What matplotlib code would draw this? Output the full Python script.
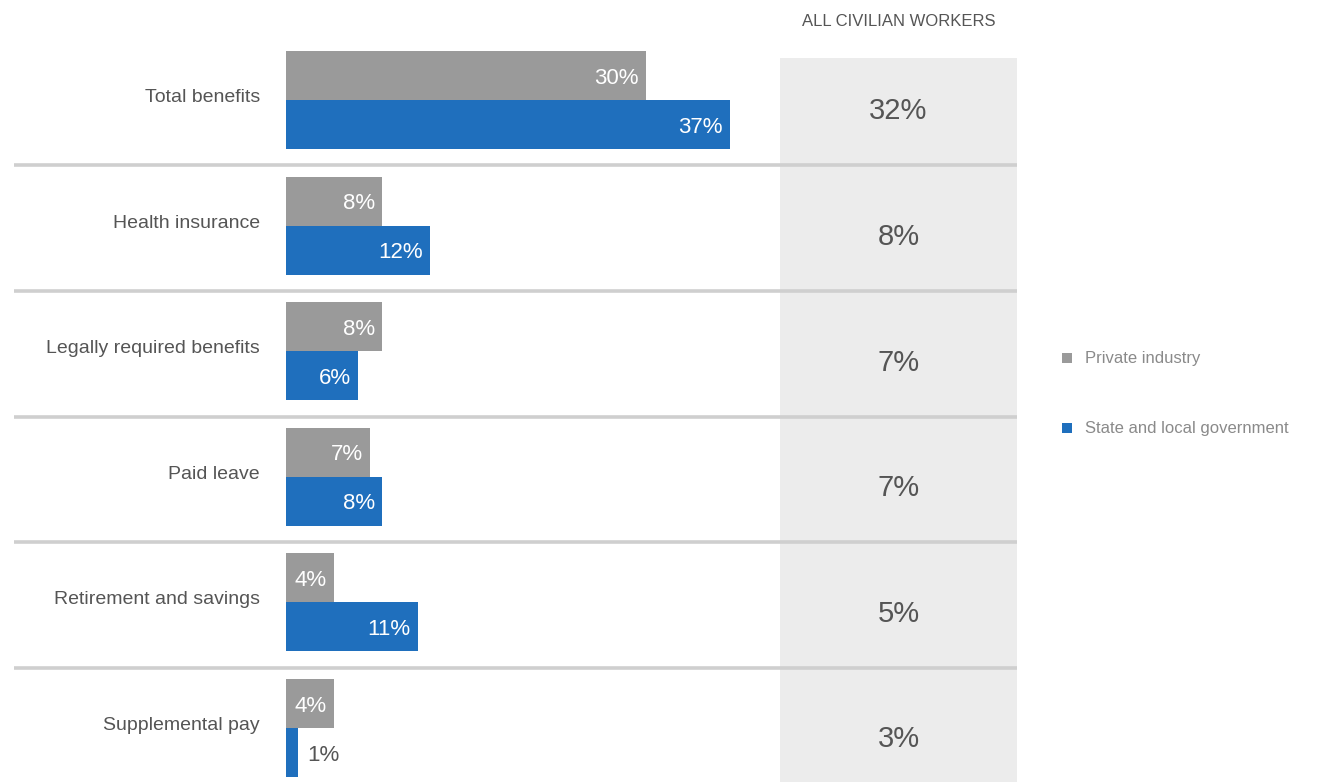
import matplotlib
matplotlib.use("Agg")
import matplotlib.pyplot as plt
from matplotlib import font_manager
from matplotlib.patches import Rectangle

categories = ["Total benefits", "Health insurance", "Legally required benefits",
              "Paid leave", "Retirement and savings", "Supplemental pay"]
private_industry = [30, 8, 8, 7, 4, 4]
state_local = [37, 12, 6, 8, 11, 1]
all_civilian = [32, 8, 7, 7, 5, 3]
series_names = ["Private industry", "State and local government"]
column_header = "ALL CIVILIAN WORKERS"

names = {f.name for f in font_manager.fontManager.ttflist}
FONT = "Liberation Sans Narrow" if "Liberation Sans Narrow" in names else "Liberation Sans"

GRAY = "#9a9a9a"
BLUE = "#1f6fbd"
PANEL = "#ececec"
SEP = "#cfcfcf"
TXT = "#555555"

W, H = 1337, 782
fig = plt.figure(figsize=(W / 100, H / 100), dpi=100)

# bar axes: x=0 at 286 px, 12 px per percent
x0_px, px_per = 286, 12.0
ax_right_px = 1017
ax = fig.add_axes([x0_px / W, 0, (ax_right_px - x0_px) / W, 1])
ax.set_xlim(0, (ax_right_px - x0_px) / px_per)
pitch = 125.6
c0 = 100
ax.set_ylim((H - c0) / pitch, (0 - c0) / pitch)
ax.axis("off")

n = len(categories)
ys = list(range(n))
bh = 0.39
ax.barh([y - bh / 2 for y in ys], private_industry, height=bh, color=GRAY, zorder=3)
ax.barh([y + bh / 2 for y in ys], state_local, height=bh, color=BLUE, zorder=3)

# gray panel for all civilian workers
panel_l = (780 - x0_px) / px_per
panel_r = (1017 - x0_px) / px_per
panel_top = (58 - c0) / pitch
ax.add_patch(Rectangle((panel_l, panel_top), panel_r - panel_l, 10,
                       facecolor=PANEL, edgecolor="none", zorder=1))
panel_c = (panel_l + panel_r) / 2
ax.text(panel_c, (22 - c0) / pitch, column_header, ha="center", va="center",
        fontsize=12, color=TXT, family=FONT)
for y, v in zip(ys, all_civilian):
    ax.text(panel_c, y + 0.09, f"{v}%", ha="center", va="center",
            fontsize=21, color=TXT, family=FONT, zorder=4)

# separators
sep_left = (14 - x0_px) / px_per
for y in ys[:-1]:
    ax.plot([sep_left, panel_r], [y + 0.52, y + 0.52], color=SEP, lw=2.6,
            clip_on=False, zorder=2, solid_capstyle="butt")

# value labels
for y, p, s in zip(ys, private_industry, state_local):
    for val, yy in ((p, y - bh / 2), (s, y + bh / 2)):
        if val >= 3:
            ax.text(val - 0.6, yy + 0.02, f"{val}%", ha="right", va="center",
                    fontsize=16, color="white", family=FONT, zorder=5)
        else:
            ax.text(val + 0.8, yy + 0.02, f"{val}%", ha="left", va="center",
                    fontsize=16, color=TXT, family=FONT, zorder=5)

# category labels
for y, c in zip(ys, categories):
    ax.text((260 - x0_px) / px_per, y - 0.02, c, ha="right", va="center",
            fontsize=14, color=TXT, family=FONT, clip_on=False)

# legend
for i, (name, col) in enumerate(zip(series_names, [GRAY, BLUE])):
    ypx = 358 + i * 70
    fig.patches.append(Rectangle((1062 / W, 1 - (ypx + 5) / H), 10 / W, 10 / H,
                                 transform=fig.transFigure, facecolor=col,
                                 edgecolor="none"))
    fig.text(1085 / W, 1 - ypx / H, name, ha="left", va="center",
             fontsize=12, color="#8a8a8a", family=FONT)

fig.savefig("out.png", dpi=100, facecolor="white")
